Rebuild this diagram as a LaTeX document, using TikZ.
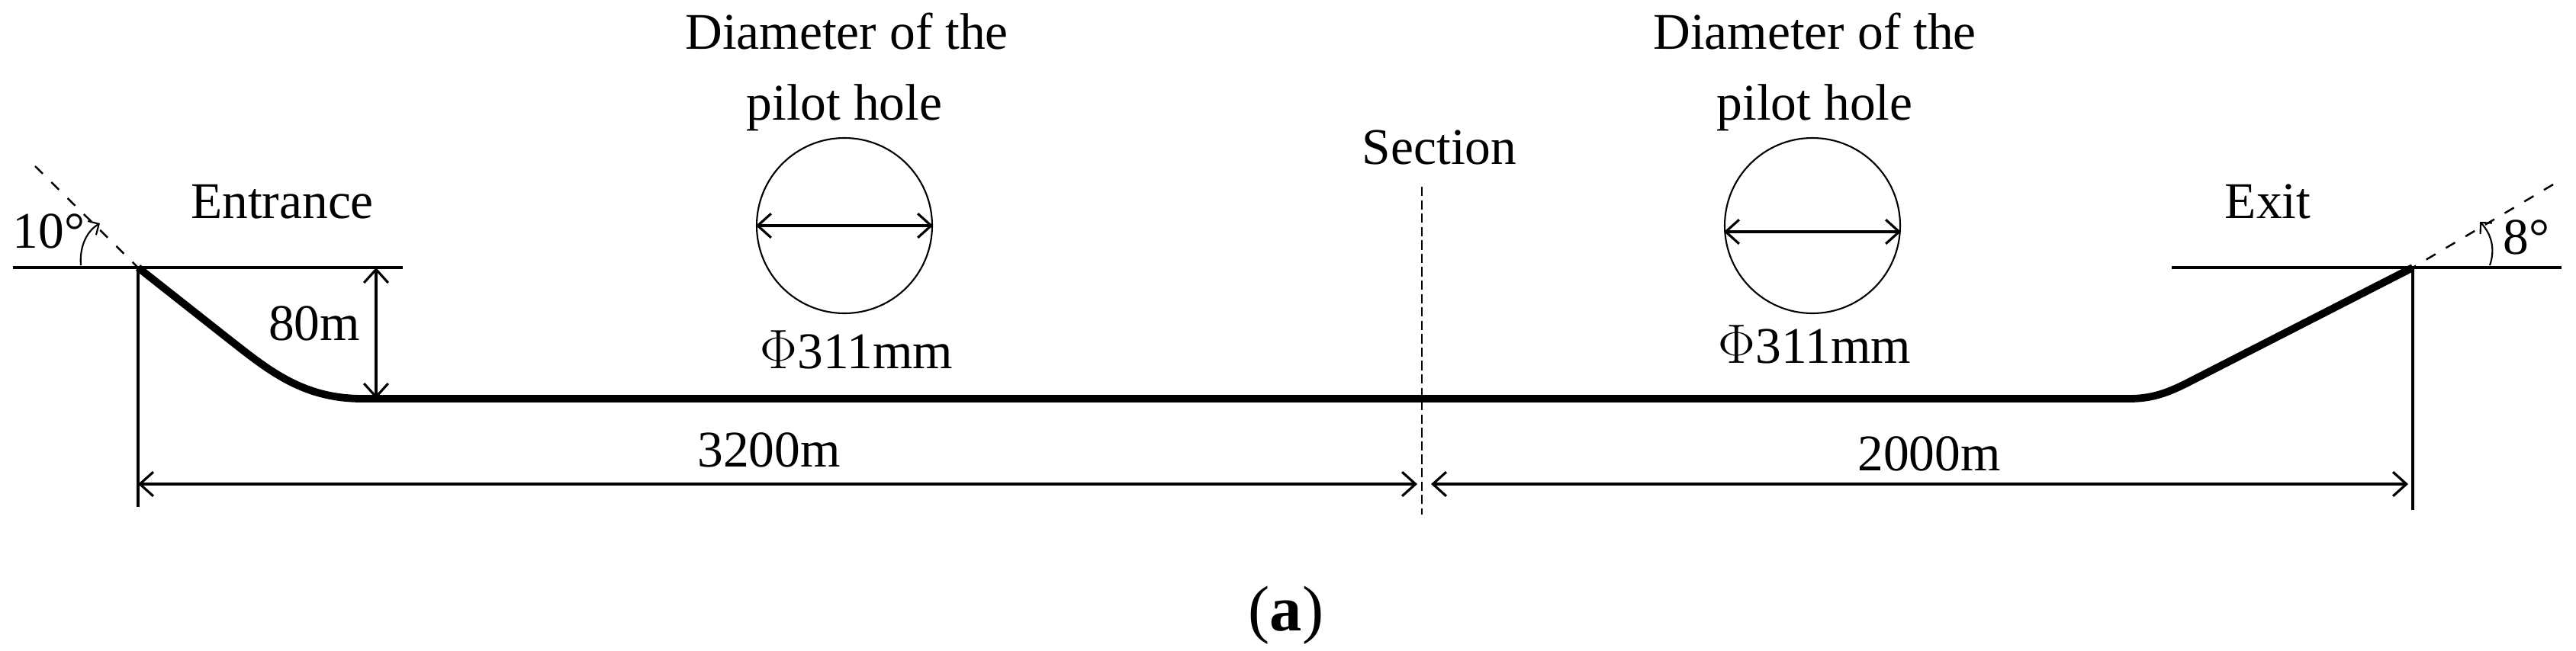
\documentclass[tikz,border=0pt]{standalone}
\usepackage{fontspec}
\setmainfont{Liberation Serif}
\usetikzlibrary{arrows.meta, positioning, calc}

\begin{document}
\begin{tikzpicture}[
  lbl/.style={font=\fontsize{19.2}{20}\selectfont, anchor=base, inner sep=0pt},
  hole/.style={draw, circle, line width=0.6pt, minimum size=2.3cm, inner sep=0pt},
  thinline/.style={line width=1.1pt},
  pipe/.style={line width=2.8pt, line join=round},
  dimline/.style={{Straight Barb[length=5pt,width=9pt]}-{Straight Barb[length=5pt,width=9pt]}, line width=0.9pt},
  axis/.style={dashed, line width=0.7pt, dash pattern=on 4pt off 4.5pt},
  anglearc/.style={-{Straight Barb[length=3pt,width=6pt]}, line width=0.6pt}
]
  \useasboundingbox (0,0) rectangle (33.77,8.53);

  % Key points of the bore
  \coordinate (entry) at (1.81,5.02);
  \coordinate (exit) at (31.63,5.02);
  \coordinate (bendC) at (4.75,3.30);
  \coordinate (bendL) at (4.93,3.30);
  \coordinate (entryL) at (0.17,5.02);
  \coordinate (entryR) at (5.28,5.02);
  \coordinate (exitL) at (28.47,5.02);
  \coordinate (exitR) at (33.58,5.02);
  \coordinate (entryFoot) at (1.81,1.88);
  \coordinate (exitFoot) at (31.63,1.84);
  \coordinate (secTop) at (18.64,6.08);
  \coordinate (secFoot) at (18.64,1.78);

  % Ground lines and bore
  \draw[thinline] (entryL) -- (entryR);
  \draw[thinline] (exitL) -- (exitR);
  \draw[thinline] (entry) -- (entryFoot);
  \draw[thinline] (exit) -- (exitFoot);
  \draw[pipe] (entry) -- (2.95,4.12) .. controls (3.5,3.69) and (3.95,3.30) .. (bendC)
    -- (27.91,3.30) .. controls (28.2,3.30) and (28.4,3.37) .. (28.66,3.50) -- (exit);
  \draw[dashed, line width=0.6pt, dash pattern=on 3.5pt off 1.5pt] (secTop) -- (secFoot);

  % Entry and exit angles
  \coordinate (entryTip) at (0.46,6.35);
  \coordinate (exitTip) at (33.47,6.11);
  \draw[axis] (entryTip) -- (entry);
  \draw[axis] (exitTip) -- (exit);
  \coordinate (arcLa) at (1.06,5.05);
  \coordinate (arcLb) at (1.31,5.60);
  \coordinate (arcRa) at (32.64,5.05);
  \coordinate (arcRb) at (32.51,5.62);
  \draw[anglearc] (arcLa) .. controls (1.04,5.30) and (1.14,5.50) .. (arcLb);
  \draw[anglearc] (arcRa) .. controls (32.71,5.25) and (32.67,5.45) .. (arcRb);
  \node[lbl] (angL) at (0.64,5.28) {10°};
  \node[lbl] (angR) at (33.12,5.20) {8°};

  % Pilot holes
  \node[hole] (holeL) at (11.07,5.57) {};
  \node[hole] (holeR) at (23.76,5.57) {};
  \draw[dimline] (holeL.west) -- (holeL.east);
  \draw[dimline] ([yshift=-0.08cm]holeR.west) -- ([yshift=-0.08cm]holeR.east);

  % Dimensions
  \coordinate (hA) at (4.93,5.02);
  \coordinate (dimL) at (1.81,2.18);
  \coordinate (dimM1) at (18.58,2.18);
  \coordinate (dimM2) at (18.76,2.18);
  \coordinate (dimR) at (31.57,2.18);
  \draw[dimline] (hA) -- (bendL);
  \draw[dimline] (dimL) -- (dimM1);
  \draw[dimline] (dimM2) -- (dimR);

  % Labels
  \node[lbl] (diaL) at (11.10,7.89) {Diameter of the};
  \node[lbl] (pilotL) at (11.07,6.96) {pilot hole};
  \node[lbl] (phiL) at (11.23,3.70) {$\Phi$311mm};
  \node[lbl] (diaR) at (23.79,7.89) {Diameter of the};
  \node[lbl] (pilotR) at (23.79,6.96) {pilot hole};
  \node[lbl] (phiR) at (23.79,3.77) {$\Phi$311mm};
  \node[lbl] (ent) at (3.70,5.67) {Entrance};
  \node[lbl] (ex) at (29.73,5.67) {Exit};
  \node[lbl] (secLbl) at (18.87,6.38) {Section};
  \node[lbl] (hLbl) at (4.12,4.07) {80m};
  \node[lbl] (lenL) at (10.08,2.41) {3200m};
  \node[lbl] (lenR) at (25.29,2.36) {2000m};
  \node[lbl, font=\fontsize{24}{26}\selectfont] (cap) at (16.86,0.26) {(\textbf{a})};
\end{tikzpicture}
\end{document}
